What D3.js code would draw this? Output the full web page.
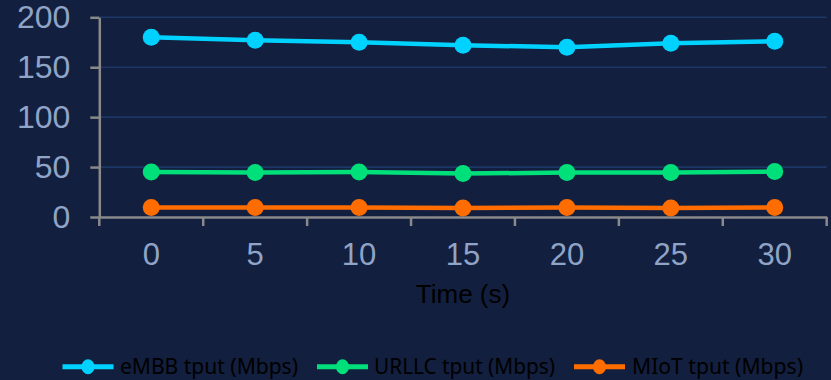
<!DOCTYPE html>
<html>
<head>
<meta charset="utf-8">
<script src="https://cdn.jsdelivr.net/npm/d3@7/dist/d3.min.js"></script>
<style>
  html, body { margin: 0; padding: 0; background: #131f3e; }
  svg { display: block; }
</style>
</head>
<body>
<svg id="chart" width="831" height="380"></svg>
<script>
const times = [0, 5, 10, 15, 20, 25, 30];
const embb = [180, 177, 175, 172, 170, 174, 176];
const urllc = [45, 44.5, 45, 43.5, 44.5, 44.5, 45.5];
const miot = [9.5, 9.5, 9.5, 9, 9.5, 9, 9.5];
const yTicks = [0, 50, 100, 150, 200];
const seriesNames = ["eMBB tput (Mbps)", "URLLC tput (Mbps)", "MIoT tput (Mbps)"];
const xTitle = "Time (s)";

(function () {
const colors = ["#00d2ff", "#00e07a", "#ff6d00"];
const seriesData = [embb, urllc, miot];

const svg = d3.select("#chart");
svg.append("rect").attr("width", 831).attr("height", 380).attr("fill", "#131f3e");

const pLeft = 99.3, pRight = 826.7, pTop = 17.3, pBottom = 217;
const x = d3.scaleBand().domain(times).range([pLeft, pRight]).padding(0);
const y = d3.scaleLinear().domain([0, 200]).range([pBottom, pTop]);

// gridlines
svg.append("g").selectAll("line")
  .data(yTicks.filter(d => d > 0))
  .join("line")
  .attr("x1", pLeft).attr("x2", pRight)
  .attr("y1", d => y(d)).attr("y2", d => y(d))
  .attr("stroke", "#1d3766").attr("stroke-width", 1.6);

// y axis
const yAxis = svg.append("g").attr("transform", `translate(${pLeft},0)`)
  .call(d3.axisLeft(y).tickValues(yTicks).tickSizeInner(9).tickSizeOuter(0).tickPadding(20));
yAxis.select(".domain").attr("stroke", "#8a8a8a").attr("stroke-width", 2.5);
yAxis.selectAll(".tick line").attr("stroke", "#8a8a8a").attr("stroke-width", 2.5);
yAxis.selectAll(".tick text")
  .attr("fill", "#8fa4c6")
  .style("font-family", "'Liberation Sans', Arial, sans-serif")
  .style("font-size", "32px");

// x axis
const xAxis = svg.append("g").attr("transform", `translate(0,${pBottom})`)
  .call(d3.axisBottom(x).tickSizeInner(0).tickSizeOuter(0).tickPadding(26));
xAxis.select(".domain").attr("stroke", "#8a8a8a").attr("stroke-width", 2.5);
xAxis.selectAll(".tick line").remove();
xAxis.selectAll(".tick text")
  .attr("fill", "#8fa4c6")
  .style("font-family", "'Liberation Sans', Arial, sans-serif")
  .style("font-size", "31px");
// boundary ticks
const bounds = times.map(t => x(t)).concat([x(times[times.length - 1]) + x.bandwidth()]);
svg.append("g").selectAll("line").data(bounds).join("line")
  .attr("x1", d => d).attr("x2", d => d)
  .attr("y1", pBottom).attr("y2", pBottom + 9)
  .attr("stroke", "#8a8a8a").attr("stroke-width", 2.5);

// x title
svg.append("text")
  .attr("x", (pLeft + pRight) / 2).attr("y", 303)
  .attr("text-anchor", "middle")
  .style("font-family", "'Liberation Sans', Arial, sans-serif")
  .style("font-size", "26px")
  .attr("fill", "#000")
  .text(xTitle);

// series
const cx = t => x(t) + x.bandwidth() / 2;
const line = d3.line().x((d, i) => cx(times[i])).y(d => y(d));
seriesData.forEach((vals, si) => {
  svg.append("path")
    .datum(vals)
    .attr("d", line)
    .attr("fill", "none")
    .attr("stroke", colors[si])
    .attr("stroke-width", 4.5);
  svg.append("g").selectAll("circle").data(vals).join("circle")
    .attr("cx", (d, i) => cx(times[i]))
    .attr("cy", d => y(d))
    .attr("r", 8.5)
    .attr("fill", colors[si]);
});

// legend
const legLineX = [62.5, 317, 574];
const legTextX = [120, 374, 632];
const legTextW = [178, 181, 171];
const legY = 366.7;
seriesNames.forEach((name, i) => {
  const g = svg.append("g");
  g.append("line")
    .attr("x1", legLineX[i]).attr("x2", legLineX[i] + 51)
    .attr("y1", legY).attr("y2", legY)
    .attr("stroke", colors[i]).attr("stroke-width", 5);
  g.append("ellipse")
    .attr("cx", legLineX[i] + 25.5).attr("cy", legY)
    .attr("rx", 6.5).attr("ry", 7.5)
    .attr("fill", colors[i]);
  g.append("text")
    .attr("x", legTextX[i]).attr("y", 374.3)
    .attr("textLength", legTextW[i])
    .attr("lengthAdjust", "spacingAndGlyphs")
    .style("font-family", "'Noto Sans', 'Open Sans', sans-serif")
    .style("font-size", "22px")
    .attr("fill", "#000")
    .text(name);
});
})();
</script>
</body>
</html>
